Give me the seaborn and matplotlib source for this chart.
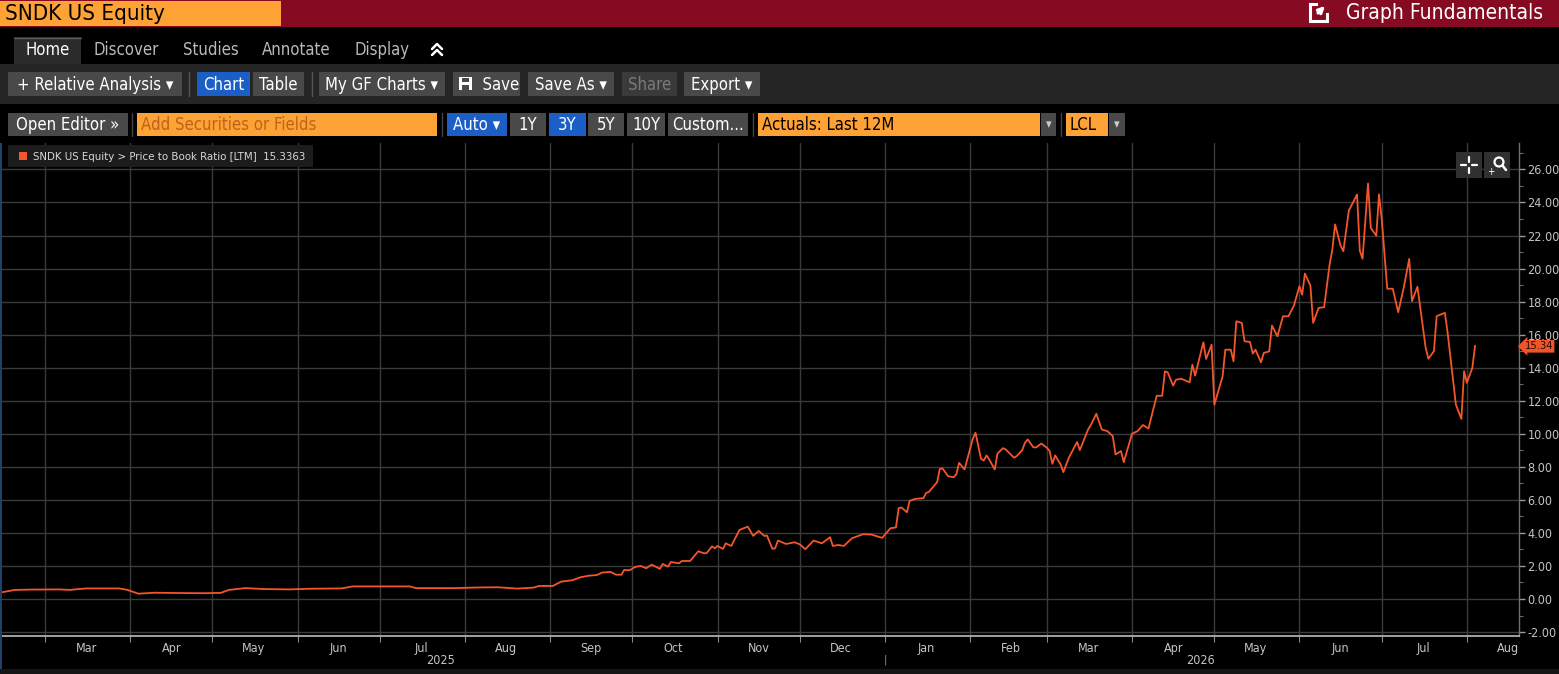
import matplotlib
matplotlib.use("Agg")
import matplotlib.dates as mdates
import matplotlib.patches as patches
import matplotlib.pyplot as plt
import matplotlib.ticker as ticker
import matplotlib.transforms as mtransforms
import pandas as pd
import seaborn as sns

# Price to book ratio (LTM)
dates = [
    "2025-02-13", "2025-02-18", "2025-02-24", "2025-03-06", "2025-03-10", "2025-03-16",
    "2025-03-28", "2025-03-31", "2025-04-04", "2025-04-10", "2025-04-19", "2025-04-28",
    "2025-05-04", "2025-05-07", "2025-05-13", "2025-05-20", "2025-05-29", "2025-06-05",
    "2025-06-17", "2025-06-21", "2025-07-12", "2025-07-14", "2025-07-28", "2025-08-07",
    "2025-08-13", "2025-08-20", "2025-08-26", "2025-08-28", "2025-09-02", "2025-09-05",
    "2025-09-09", "2025-09-12", "2025-09-15", "2025-09-18", "2025-09-20", "2025-09-23",
    "2025-09-25", "2025-09-27", "2025-09-28", "2025-09-30", "2025-10-02", "2025-10-04",
    "2025-10-06", "2025-10-08", "2025-10-11", "2025-10-12", "2025-10-14", "2025-10-15",
    "2025-10-18", "2025-10-19", "2025-10-22", "2025-10-25", "2025-10-27", "2025-10-28",
    "2025-10-30", "2025-10-31", "2025-11-01", "2025-11-03", "2025-11-04", "2025-11-06",
    "2025-11-09", "2025-11-12", "2025-11-14", "2025-11-16", "2025-11-18", "2025-11-19",
    "2025-11-21", "2025-11-22", "2025-11-23", "2025-11-26", "2025-11-29", "2025-12-01",
    "2025-12-03", "2025-12-06", "2025-12-09", "2025-12-12", "2025-12-13", "2025-12-15",
    "2025-12-17", "2025-12-20", "2025-12-24", "2025-12-27", "2025-12-31", "2026-01-03",
    "2026-01-05", "2026-01-06", "2026-01-07", "2026-01-09", "2026-01-10", "2026-01-12",
    "2026-01-15", "2026-01-16", "2026-01-17", "2026-01-20", "2026-01-21", "2026-01-22",
    "2026-01-24", "2026-01-26", "2026-01-27", "2026-01-28", "2026-01-30", "2026-02-02",
    "2026-02-03", "2026-02-05", "2026-02-06", "2026-02-07", "2026-02-08", "2026-02-10",
    "2026-02-11", "2026-02-13", "2026-02-14", "2026-02-17", "2026-02-18", "2026-02-20",
    "2026-02-21", "2026-02-22", "2026-02-24", "2026-02-25", "2026-02-27", "2026-03-01",
    "2026-03-02", "2026-03-03", "2026-03-04", "2026-03-06", "2026-03-07", "2026-03-09",
    "2026-03-12", "2026-03-13", "2026-03-16", "2026-03-17", "2026-03-19", "2026-03-21",
    "2026-03-23", "2026-03-25", "2026-03-26", "2026-03-28", "2026-03-29", "2026-04-01",
    "2026-04-03", "2026-04-05", "2026-04-07", "2026-04-10", "2026-04-12", "2026-04-13",
    "2026-04-14", "2026-04-16", "2026-04-17", "2026-04-19", "2026-04-22", "2026-04-23",
    "2026-04-24", "2026-04-27", "2026-04-28", "2026-04-30", "2026-05-01", "2026-05-04",
    "2026-05-05", "2026-05-07", "2026-05-08", "2026-05-09", "2026-05-11", "2026-05-12",
    "2026-05-14", "2026-05-15", "2026-05-16", "2026-05-18", "2026-05-19", "2026-05-21",
    "2026-05-22", "2026-05-24", "2026-05-26", "2026-05-28", "2026-05-30", "2026-06-01",
    "2026-06-02", "2026-06-03", "2026-06-05", "2026-06-06", "2026-06-08", "2026-06-10",
    "2026-06-12", "2026-06-13", "2026-06-14", "2026-06-16", "2026-06-17", "2026-06-19",
    "2026-06-22", "2026-06-23", "2026-06-24", "2026-06-26", "2026-06-27", "2026-06-29",
    "2026-06-30", "2026-07-01", "2026-07-03", "2026-07-05", "2026-07-07", "2026-07-09",
    "2026-07-11", "2026-07-12", "2026-07-14", "2026-07-17", "2026-07-18", "2026-07-20",
    "2026-07-21", "2026-07-24", "2026-07-25", "2026-07-28", "2026-07-30", "2026-07-31",
    "2026-08-01", "2026-08-03", "2026-08-04",
]
pb_ratio = [
    0.40, 0.55, 0.57, 0.58, 0.55, 0.64,
    0.64, 0.55, 0.32, 0.38, 0.36, 0.35,
    0.37, 0.55, 0.66, 0.60, 0.58, 0.62,
    0.64, 0.76, 0.76, 0.66, 0.66, 0.70,
    0.71, 0.63, 0.69, 0.79, 0.79, 1.05,
    1.13, 1.31, 1.41, 1.45, 1.60, 1.64,
    1.47, 1.47, 1.76, 1.74, 1.94, 2.00,
    1.86, 2.08, 1.82, 2.12, 1.96, 2.24,
    2.16, 2.30, 2.30, 2.89, 2.77, 2.77,
    3.19, 3.07, 3.21, 3.03, 3.37, 3.21,
    4.18, 4.38, 3.82, 4.12, 3.82, 3.84,
    3.03, 3.07, 3.54, 3.33, 3.43, 3.31,
    3.01, 3.54, 3.37, 3.74, 3.21, 3.27,
    3.21, 3.68, 3.92, 3.90, 3.70, 4.28,
    4.33, 5.50, 5.54, 5.25, 5.94, 6.06,
    6.10, 6.42, 6.48, 7.07, 7.88, 7.90,
    7.43, 7.37, 7.54, 8.24, 7.84, 9.70,
    10.06, 8.48, 8.38, 8.69, 8.44, 7.84,
    8.81, 9.13, 9.05, 8.55, 8.65, 9.01,
    9.45, 9.66, 9.19, 9.17, 9.41, 9.15,
    8.95, 8.18, 8.69, 8.14, 7.68, 8.55,
    9.50, 9.01, 10.26, 10.53, 11.21, 10.26,
    10.16, 9.86, 8.75, 8.95, 8.28, 10.00,
    10.16, 10.53, 10.32, 12.30, 12.30, 13.78,
    13.72, 12.91, 13.27, 13.33, 13.11, 14.18,
    13.52, 15.54, 14.53, 15.39, 11.76, 13.47,
    15.09, 15.09, 14.38, 16.81, 16.71, 15.60,
    15.56, 14.85, 15.09, 14.32, 14.89, 14.99,
    16.55, 15.90, 17.11, 17.11, 17.76, 18.93,
    18.42, 19.70, 18.97, 16.71, 17.62, 17.66,
    20.24, 21.15, 22.67, 21.39, 21.05, 23.51,
    24.48, 21.09, 20.59, 25.15, 22.46, 21.99,
    24.49, 22.97, 18.78, 18.78, 17.36, 18.84,
    20.59, 18.03, 18.90, 15.20, 14.54, 15.00,
    17.12, 17.32, 16.11, 11.77, 10.90, 13.79,
    13.09, 13.99, 15.3363,
]
last_value = 15.3363
year_labels = ["2025", "2026"]
y_ticks = [-2, 0, 2, 4, 6, 8, 10, 12, 14, 16, 18, 20, 22, 24, 26]

LINE = "#f4562b"
GRID = "#3a3a3a"
AXTXT = "#c4c4c4"
BTN = "#494949"
BLUE = "#1b5fc6"
ORANGE = "#ffa235"

df = pd.DataFrame({"date": pd.to_datetime(dates), "pb": pb_ratio})

sns.set_theme(style="dark")
plt.rcParams["font.family"] = ["DejaVu Sans"]
plt.rcParams["font.stretch"] = "condensed"

fig = plt.figure(figsize=(15.59, 6.74), dpi=100, facecolor="black")
W, H = 1559, 674

ax = fig.add_axes([0, 1 - 636 / H, 1519 / W, (636 - 143) / H], zorder=1)
ax.set_facecolor("none")

sns.lineplot(data=df, x="date", y="pb", ax=ax, color=LINE, linewidth=1.3)

ax.set_xlim(pd.Timestamp("2025-02-12 14:00"), pd.Timestamp("2026-08-20"))
ax.set_ylim(-2.24, 27.6)
ax.set_xlabel("")
ax.set_ylabel("")

# y axis on the right
ax.yaxis.tick_right()
ax.set_yticks(y_ticks)
ax.yaxis.set_major_formatter(ticker.FormatStrFormatter("%.2f"))
ax.yaxis.set_minor_locator(ticker.MultipleLocator(1))
ax.tick_params(axis="y", which="major", right=True, direction="out", length=4,
               width=1, color="#9a9a9a", labelcolor=AXTXT, labelsize=9, pad=2)
ax.tick_params(axis="y", which="minor", right=True, direction="out", length=3,
               width=0.8, color="#6a6a6a")

# x axis: grid at month starts, labels mid-month
month_starts = pd.date_range("2025-03-01", "2026-08-01", freq="MS")
ax.xaxis.set_major_locator(ticker.FixedLocator(mdates.date2num(month_starts)))
ax.xaxis.set_major_formatter(ticker.NullFormatter())
mids = month_starts + pd.Timedelta(days=15)
ax.xaxis.set_minor_locator(ticker.FixedLocator(mdates.date2num(mids)))
ax.xaxis.set_minor_formatter(ticker.FixedFormatter([d.strftime("%b") for d in mids]))
ax.tick_params(axis="x", which="major", bottom=True, direction="out", length=4,
               width=0.8, color="#8a8a8a")
ax.tick_params(axis="x", which="minor", bottom=True, length=0,
               labelcolor=AXTXT, labelsize=9, pad=4)

ax.grid(True, which="major", color=GRID, linewidth=1)
for s in ["top", "left"]:
    ax.spines[s].set_visible(False)
ax.spines["bottom"].set_color("#bdbdbd")
ax.spines["bottom"].set_linewidth(1.2)
ax.spines["right"].set_color("#6f6f6f")
ax.spines["right"].set_linewidth(1)

# year labels
trans = mtransforms.blended_transform_factory(ax.transData, ax.transAxes)
ax.text(mdates.date2num(pd.Timestamp("2025-07-23")), -0.049, year_labels[0],
        transform=trans, ha="center", va="center", color=AXTXT, fontsize=9)
ax.text(mdates.date2num(pd.Timestamp("2026-04-26")), -0.049, year_labels[1],
        transform=trans, ha="center", va="center", color=AXTXT, fontsize=9)
ax.text(mdates.date2num(pd.Timestamp("2026-01-01")), -0.049, "|",
        transform=trans, ha="center", va="center", color="#8a8a8a", fontsize=8)

# last value tag
ax.annotate(f"{last_value:.2f}", xy=(1.0, last_value), xycoords=("axes fraction", "data"),
            xytext=(4, -0.5), textcoords="offset points", ha="left", va="center",
            fontsize=8, color="#2a0600", annotation_clip=False,
            bbox=dict(boxstyle="larrow,pad=0.12", fc="#f0552a", ec="none"))

# ---- terminal chrome drawn in pixel coordinates ----
ui = fig.add_axes([0, 0, 1, 1], zorder=2)
ui.set_facecolor("none")
ui.set_xlim(0, W)
ui.set_ylim(H, 0)
ui.axis("off")


def box(x0, x1, y0, y1, fc, ec="none", lw=0):
    ui.add_patch(patches.Rectangle((x0, y0), x1 - x0, y1 - y0, fc=fc, ec=ec, lw=lw))


def button(x0, x1, y0, y1, label, fc=BTN, tc="white", fs=12, ha="center"):
    box(x0, x1, y0, y1, fc)
    tx = (x0 + x1) / 2 if ha == "center" else x0 + 4
    ui.text(tx, (y0 + y1) / 2 + 0.5, label, ha=ha, va="center", color=tc, fontsize=fs)


# title banner
box(0, W, 0, 27, "#860a22")
box(0, 281, 1, 26, ORANGE)
ui.text(5, 14, "SNDK US Equity", ha="left", va="center", color="black", fontsize=16)
ui.text(1346, 13, "Graph Fundamentals", ha="left", va="center", color="white", fontsize=15)
ui.add_patch(patches.Rectangle((1310, 4), 17, 17, fc="none", ec="white", lw=2.2))
box(1318, 1330, 1, 13, "#860a22")
ui.annotate("", xy=(1327, 4), xytext=(1316, 15),
            arrowprops=dict(arrowstyle="-|>", color="white", lw=2.2, mutation_scale=9))

# tabs
box(14, 81, 37, 64, "#2b2b2b")
ui.plot([14, 81], [37.5, 37.5], color="#5a5a5a", lw=1)
ui.text(47.5, 50, "Home", ha="center", va="center", color="white", fontsize=12)
for lbl, cx in [("Discover", 126), ("Studies", 211), ("Annotate", 296), ("Display", 382)]:
    ui.text(cx, 50, lbl, ha="center", va="center", color="#b9b9b9", fontsize=12)
ui.plot([432, 437, 442], [49, 44, 49], color="white", lw=1.8)
ui.plot([432, 437, 442], [55, 50, 55], color="white", lw=1.8)

# toolbar
box(0, W, 64, 104, "#252525")
by0, by1 = 72, 96
button(8, 182, by0, by1, "+ Relative Analysis \u25be")
ui.plot([189, 189], [by0, by1], color="#555555", lw=1)
button(197, 250, by0, by1, "Chart", fc=BLUE)
button(253, 304, by0, by1, "Table")
ui.plot([312, 312], [by0, by1], color="#555555", lw=1)
button(319, 445, by0, by1, "My GF Charts \u25be")
button(453, 520, by0, by1, "      Save")
box(459, 472, 77, 90, "white")
box(462, 469, 78, 82, BTN)
box(462, 469, 85, 90, BTN)
button(528, 614, by0, by1, "Save As \u25be")
button(622, 677, by0, by1, "Share", fc="#3a3a3a", tc="#7a7a7a")
button(684, 760, by0, by1, "Export \u25be")

# third row
ry0, ry1 = 113, 136
button(8, 128, ry0, ry1, "Open Editor \u00bb")
ui.plot([132, 132], [ry0, ry1], color="#444444", lw=1)
button(137, 437, ry0, ry1, "Add Securities or Fields", fc=ORANGE, tc="#b8641c", ha="left")
ui.plot([442, 442], [ry0, ry1], color="#444444", lw=1)
button(447, 507, ry0, ry1, "Auto \u25be", fc=BLUE)
button(510, 546, ry0, ry1, "1Y")
button(549, 586, ry0, ry1, "3Y", fc=BLUE)
button(588, 624, ry0, ry1, "5Y")
button(627, 665, ry0, ry1, "10Y")
button(668, 748, ry0, ry1, "Custom...")
ui.plot([753, 753], [ry0, ry1], color="#444444", lw=1)
button(758, 1040, ry0, ry1, "Actuals: Last 12M", fc=ORANGE, tc="black", ha="left")
button(1041, 1056, ry0, ry1, "\u25be", fc=BTN, tc="#cccccc", fs=9)
ui.plot([1061, 1061], [ry0, ry1], color="#444444", lw=1)
button(1066, 1108, ry0, ry1, "LCL", fc=ORANGE, tc="black", ha="left")
button(1109, 1125, ry0, ry1, "\u25be", fc=BTN, tc="#cccccc", fs=9)

# legend box
box(8, 313, 145, 167, "#1c1c1c")
box(19, 27, 152, 160, LINE)
ui.text(33, 156.5, "SNDK US Equity > Price to Book Ratio [LTM]  15.3363", ha="left",
        va="center", color="#d8d8d8", fontsize=8.2)

# crosshair / zoom buttons
box(1456, 1482, 152, 178, "#303030")
box(1484, 1510, 152, 178, "#303030")
cx, cy = 1469, 165
for dx0, dx1, dy0, dy1 in [(-8, -3, 0, 0), (3, 8, 0, 0), (0, 0, -8, -3), (0, 0, 3, 8)]:
    ui.plot([cx + dx0, cx + dx1], [cy + dy0, cy + dy1], color="white", lw=1.6)
ui.add_patch(patches.Circle((1499, 162), 4.5, fc="none", ec="white", lw=1.6))
ui.plot([1502.5, 1506], [165.5, 170], color="white", lw=1.8)
ui.text(1491, 172, "+", ha="center", va="center", color="white", fontsize=7)

# thin left edge and bottom strip
box(0, 2, 143, H, "#1f3f6e")
box(0, W, 669, H, "#151515")

fig.savefig("out.png", dpi=100, facecolor="black")
